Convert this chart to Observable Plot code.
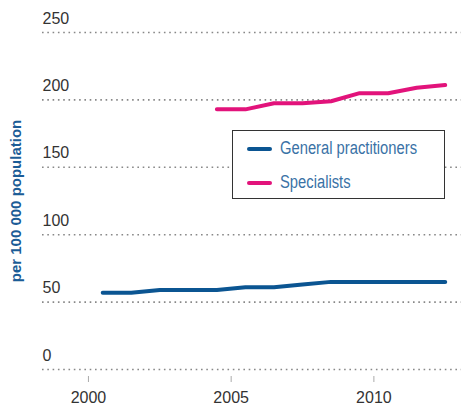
<!DOCTYPE html>
<html>
<head>
<meta charset="utf-8">
<script src="https://cdn.jsdelivr.net/npm/d3@7"></script>
<script src="https://cdn.jsdelivr.net/npm/@observablehq/plot@0.6"></script>
<style>
  html, body { margin: 0; padding: 0; background: #fff; }
  #wrap { position: relative; width: 461px; height: 405px; }
  #legend {
    position: absolute; left: 232px; top: 130px; width: 211px; height: 67px;
    border: 1px solid #333; background: #fff; box-sizing: content-box;
    font-family: "Liberation Sans", Arial, sans-serif;
    font-size: 18px; color: #3a72a6;
  }
  .item { position: absolute; left: 14px; display: flex; align-items: center; white-space: nowrap; }
  .sw { width: 25px; height: 4px; border-radius: 2px; margin-right: 8px; flex: none; }
  .lt { display: inline-block; transform: scaleX(0.82); transform-origin: left center; }
</style>
</head>
<body>
<div id="wrap">
  <div id="chart"></div>
  <div id="legend"></div>
</div>
<script>
const years = [2000, 2001, 2002, 2003, 2004, 2005, 2006, 2007, 2008, 2009, 2010, 2011, 2012];
const gpValues = [57, 57, 59, 59, 59, 61, 61, 63, 65, 65, 65, 65, 65];
const specYears = [2004, 2005, 2006, 2007, 2008, 2009, 2010, 2011, 2012];
const specValues = [193, 193, 197.5, 197.5, 199, 205, 205, 209, 211];
const seriesNames = ["General practitioners", "Specialists"];
const seriesColors = ["#0b5592", "#e2137b"];
const yTicks = [0, 50, 100, 150, 200, 250];
const xTicks = [2000, 2005, 2010];
const yLabel = "per 100 000 population";

const gp = years.map((y, i) => ({year: y, value: gpValues[i]}));
const spec = specYears.map((y, i) => ({year: y, value: specValues[i]}));

const chart = Plot.plot({
  width: 461,
  height: 405,
  marginLeft: 42,
  marginRight: 0,
  marginTop: 32,
  marginBottom: 36,
  style: {fontFamily: "'Liberation Sans', Arial, sans-serif", fontSize: "16px", color: "#333", background: "#fff", overflow: "visible"},
  x: {domain: [1998.39, 2013.07]},
  y: {domain: [0, 250]},
  marks: [
    Plot.gridY(yTicks, {stroke: "#888", strokeOpacity: 1, strokeWidth: 1.6, strokeDasharray: "1.6,3.7"}),
    Plot.axisY(yTicks, {tickSize: 0, textAnchor: "start", dx: 9, dy: -14, fill: "#333", fontSize: 16, label: null}),
    Plot.axisY({ticks: [], tickSize: 0, label: yLabel, labelAnchor: "center", labelArrow: "none", labelOffset: 32, dx: -6, fill: "#1b5c96", fontWeight: "bold", fontSize: 15}),
    Plot.axisX(xTicks, {tickSize: 6, tickFormat: () => "", dy: 7, stroke: "#aaa", label: null}),
    Plot.axisX(xTicks, {tickSize: 0, tickPadding: 22, tickFormat: "d", fill: "#333", fontSize: 16, label: null}),
    Plot.line(gp, {x: d => d.year + 0.5, y: "value", stroke: seriesColors[0], strokeWidth: 4}),
    Plot.line(spec, {x: d => d.year + 0.5, y: "value", stroke: seriesColors[1], strokeWidth: 4})
  ]
});
document.getElementById("chart").appendChild(chart);

const legend = document.getElementById("legend");
seriesNames.forEach((name, i) => {
  const item = document.createElement("div");
  item.className = "item";
  item.style.top = (i === 0 ? 7 : 41) + "px";
  const sw = document.createElement("div");
  sw.className = "sw";
  sw.style.background = seriesColors[i];
  const t = document.createElement("span");
  t.className = "lt";
  t.textContent = name;
  item.appendChild(sw);
  item.appendChild(t);
  legend.appendChild(item);
});
</script>
</body>
</html>
